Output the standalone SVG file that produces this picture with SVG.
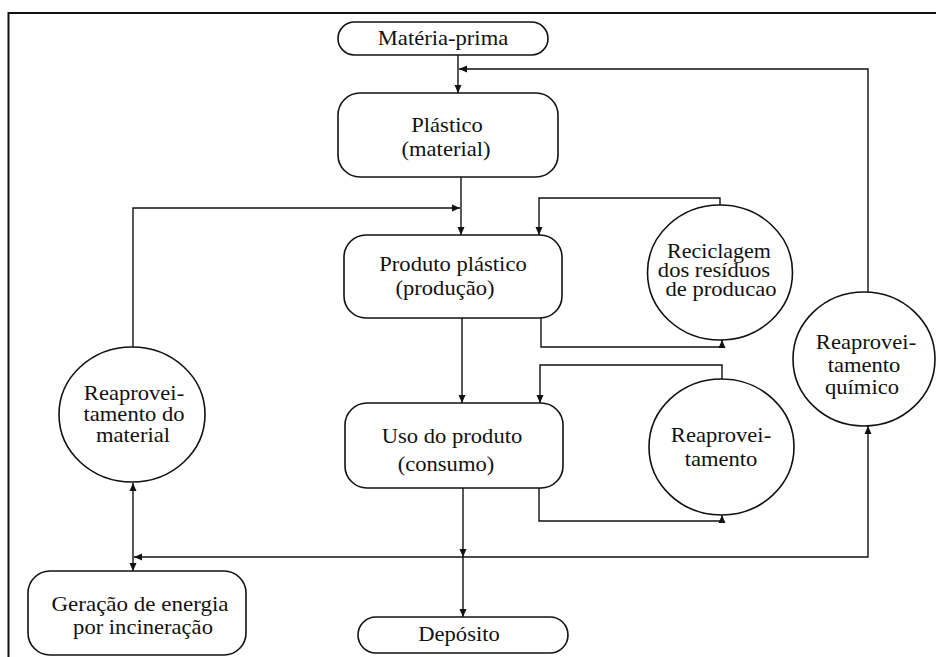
<svg xmlns="http://www.w3.org/2000/svg" width="936" height="657" viewBox="0 0 936 657">
<defs>
<marker id="ah" markerWidth="8" markerHeight="8" viewBox="0 0 8 8" refX="8" refY="4" orient="auto-start-reverse" markerUnits="userSpaceOnUse"><path d="M0,0.5 L8,4 L0,7.5 z" fill="#111"/></marker>
</defs>
<style>
.shape{fill:#fff;stroke:#111;stroke-width:1.6}
.conn{fill:none;stroke:#111;stroke-width:1.4}
.t{font-family:'Liberation Serif','DejaVu Serif','Times New Roman',serif;font-size:20px;fill:#111;text-anchor:middle}
</style>
<rect width="936" height="657" fill="#fff"/>
<path id="frame" d="M8.5,657 V13 H936" fill="none" stroke="#111" stroke-width="2"/>

<g id="connectors">
<path class="conn" d="M458,55 V93" marker-end="url(#ah)"/>
<path class="conn" d="M868,292 V69 H459" marker-end="url(#ah)"/>
<path class="conn" d="M461,177 V235" marker-end="url(#ah)"/>
<path class="conn" d="M133,347 V208 H460" marker-end="url(#ah)"/>
<path class="conn" d="M720,205 V198 H539 V235" marker-end="url(#ah)"/>
<path class="conn" d="M541,318 V347 H722 V340" marker-end="url(#ah)"/>
<path class="conn" d="M462,318 V403" marker-end="url(#ah)"/>
<path class="conn" d="M722,379 V365 H540 V403" marker-end="url(#ah)"/>
<path class="conn" d="M539,488 V521 H722 V515" marker-end="url(#ah)"/>
<path class="conn" d="M463,488 V557" marker-end="url(#ah)"/>
<path class="conn" d="M463,557 V617" marker-end="url(#ah)"/>
<path class="conn" d="M463,557 H868 V426" marker-end="url(#ah)"/>
<path class="conn" d="M463,557 H134" marker-end="url(#ah)"/>
<path class="conn" d="M133,483 V571" marker-start="url(#ah)" marker-end="url(#ah)"/>
</g>

<g id="materia-prima">
<rect class="shape" x="338" y="22" width="210" height="33" rx="16.5"/>
<text class="t" font-family="Liberation Serif, DejaVu Serif, serif" transform="matrix(1.13 0 0 1 443 45)">Matéria-prima</text>
</g>

<g id="plastico">
<rect class="shape" x="338" y="93" width="220" height="84" rx="22"/>
<text class="t" font-family="Liberation Serif, DejaVu Serif, serif" transform="matrix(1.13 0 0 1 447 132)">Plástico</text>
<text class="t" font-family="Liberation Serif, DejaVu Serif, serif" transform="matrix(1.13 0 0 1 446 156)">(material)</text>
</g>

<g id="produto-plastico">
<rect class="shape" x="344" y="235" width="218" height="83" rx="22"/>
<text class="t" font-family="Liberation Serif, DejaVu Serif, serif" transform="matrix(1.13 0 0 1 453 271)">Produto plástico</text>
<text class="t" font-family="Liberation Serif, DejaVu Serif, serif" transform="matrix(1.13 0 0 1 445 295)">(produção)</text>
</g>

<g id="uso-do-produto">
<rect class="shape" x="345" y="403" width="218" height="85" rx="22"/>
<text class="t" font-family="Liberation Serif, DejaVu Serif, serif" transform="matrix(1.13 0 0 1 452 443)">Uso do produto</text>
<text class="t" font-family="Liberation Serif, DejaVu Serif, serif" transform="matrix(1.13 0 0 1 446 471)">(consumo)</text>
</g>

<g id="deposito">
<rect class="shape" x="358" y="617" width="210" height="36" rx="18"/>
<text class="t" font-family="Liberation Serif, DejaVu Serif, serif" transform="matrix(1.13 0 0 1 459 641)">Depósito</text>
</g>

<g id="geracao-energia">
<rect class="shape" x="28" y="571" width="218" height="84" rx="22"/>
<text class="t" font-family="Liberation Serif, DejaVu Serif, serif" transform="matrix(1.15 0 0 1 140 611)">Geração de energia</text>
<text class="t" font-family="Liberation Serif, DejaVu Serif, serif" transform="matrix(1.13 0 0 1 143 634)">por incineração</text>
</g>

<g id="reaproveitamento-material">
<ellipse class="shape" cx="132" cy="414.5" rx="73" ry="67.5"/>
<text class="t" font-family="Liberation Serif, DejaVu Serif, serif" transform="matrix(1.13 0 0 1 134 400)">Reaprovei-</text>
<text class="t" font-family="Liberation Serif, DejaVu Serif, serif" transform="matrix(1.13 0 0 1 134 421)">tamento do</text>
<text class="t" font-family="Liberation Serif, DejaVu Serif, serif" transform="matrix(1.13 0 0 1 133 442)">material</text>
</g>

<g id="reciclagem-residuos">
<ellipse class="shape" cx="720" cy="272.5" rx="72.5" ry="67.5"/>
<text class="t" font-family="Liberation Serif, DejaVu Serif, serif" transform="matrix(1.1 0 0 1 719 258)">Reciclagem</text>
<text class="t" font-family="Liberation Serif, DejaVu Serif, serif" transform="matrix(1.13 0 0 1 714 277)">dos resíduos</text>
<text class="t" font-family="Liberation Serif, DejaVu Serif, serif" transform="matrix(1.13 0 0 1 721 296)">de producao</text>
</g>

<g id="reaproveitamento">
<ellipse class="shape" cx="721.5" cy="447" rx="72.5" ry="68"/>
<text class="t" font-family="Liberation Serif, DejaVu Serif, serif" transform="matrix(1.13 0 0 1 721 442)">Reaprovei-</text>
<text class="t" font-family="Liberation Serif, DejaVu Serif, serif" transform="matrix(1.13 0 0 1 721 466)">tamento</text>
</g>

<g id="reaproveitamento-quimico">
<ellipse class="shape" cx="864" cy="359" rx="71" ry="67"/>
<text class="t" font-family="Liberation Serif, DejaVu Serif, serif" transform="matrix(1.13 0 0 1 866 349)">Reaprovei-</text>
<text class="t" font-family="Liberation Serif, DejaVu Serif, serif" transform="matrix(1.13 0 0 1 864 372)">tamento</text>
<text class="t" font-family="Liberation Serif, DejaVu Serif, serif" transform="matrix(1.13 0 0 1 862 394)">químico</text>
</g>
</svg>
